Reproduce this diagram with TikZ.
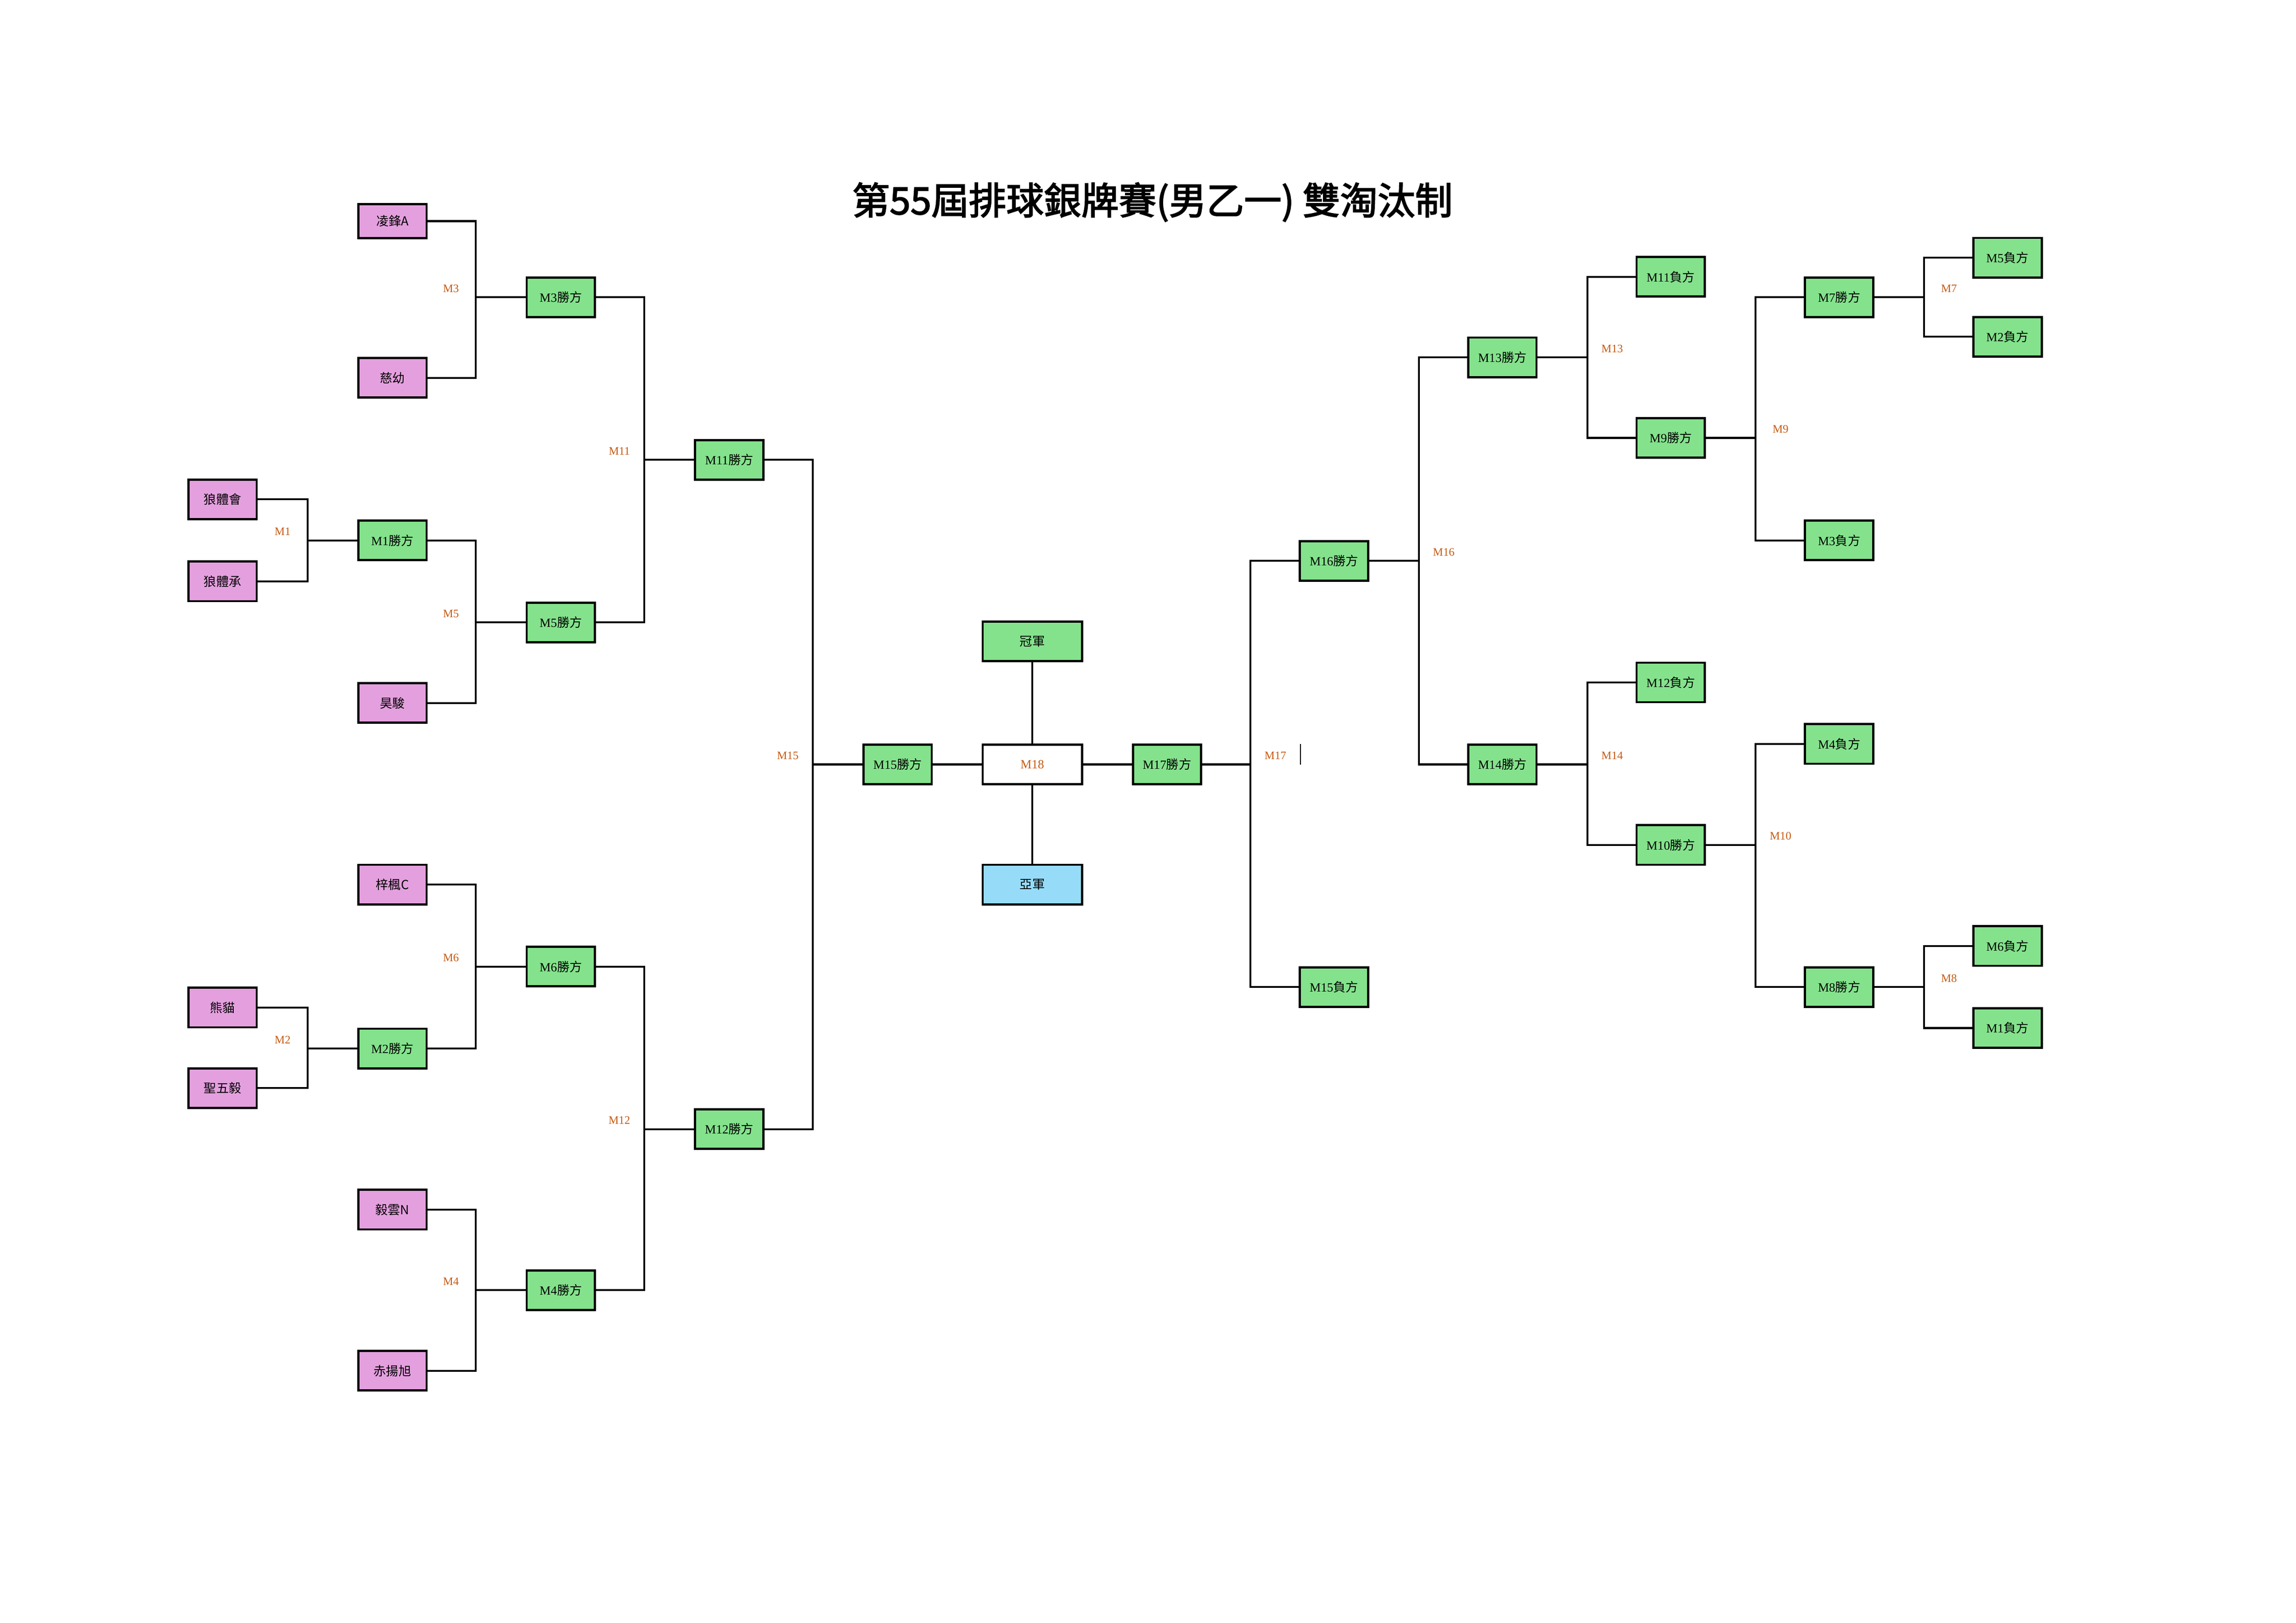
\documentclass[tikz,border=0pt]{standalone}
\usepackage{fontspec}
\setmainfont{Liberation Serif}
\newfontfamily\cjk{Noto Sans CJK TC}
\newfontfamily\cjkhead[FakeBold=2.5]{Noto Sans CJK TC}
\usetikzlibrary{calc}
\definecolor{teampink}{HTML}{E4A0DE}
\definecolor{wingreen}{HTML}{84E28C}
\definecolor{silverblue}{HTML}{96DCF8}
\definecolor{matchorange}{HTML}{C55A11}
\newcommand\winner[1]{M#1{\cjk 勝方}}
\newcommand\loser[1]{M#1{\cjk 負方}}
\tikzset{
  box/.style={draw,line width=0.8pt,minimum width=0.883cm,minimum height=0.512cm,inner sep=0pt,font=\fontsize{4.6}{5}\selectfont},
  team/.style={box,fill=teampink,font=\cjk\fontsize{4.6}{5}\selectfont},
  adv/.style={box,fill=wingreen},
  centrebox/.style={box,minimum width=1.283cm},
  mlabel/.style={text=matchorange,inner sep=0pt,font=\fontsize{4.2}{5}\selectfont},
  link/.style={line width=0.7pt}
}
\begin{document}
\begin{tikzpicture}[x=0.01894cm,y=-0.01894cm]
  \useasboundingbox (0,0) rectangle (1568,1108);
  \node[font=\cjkhead\fontsize{13.8}{16}\selectfont] (title) at (787,138) {第55屆排球銀牌賽(男乙一) 雙淘汰制};
  % teams
  \node[team,minimum height=0.442cm] (tLF) at (268,151) {凌鋒A};
  \node[team] (tCY) at (268,258) {慈幼};
  \node[team] (tLH) at (152,341) {狼體會};
  \node[team] (tLC) at (152,397) {狼體承};
  \node[team] (tHJ) at (268,480) {昊駿};
  \node[team] (tZF) at (268,604) {梓楓C};
  \node[team] (tXM) at (152,688) {熊貓};
  \node[team] (tSW) at (152,743) {聖五毅};
  \node[team] (tYY) at (268,826) {毅雲N};
  \node[team] (tCH) at (268,936) {赤揚旭};
  % winners and losers
  \foreach \n/\x/\y in {1/268/369,2/268/716,3/383/203,4/383/881,5/383/425,6/383/660,
    7/1256/203,8/1256/674,9/1141/299,10/1141/577,11/498/314,12/498/771,
    13/1026/244,14/1026/522,15/613/522,16/911/383,17/797/522}
    \node[adv] (w\n) at (\x,\y) {\winner{\n}};
  \foreach \n/\x/\y in {1/1371/702,2/1371/230,3/1256/369,4/1256/508,5/1371/176,
    6/1371/646,11/1141/189,12/1141/466,15/911/674}
    \node[adv] (d\n) at (\x,\y) {\loser{\n}};
  % final
  \node[centrebox] (f18) at (705,522) {\textcolor{matchorange}{M18}};
  \node[centrebox,fill=wingreen] (champ) at (705,438) {\cjk 冠軍};
  \node[centrebox,fill=silverblue] (runner) at (705,604) {\cjk 亞軍};
  \draw[link] (w15.east) -- (f18.west);
  \draw[link] (f18.east) -- (w17.west);
  \draw[link] (champ.south) -- (f18.north);
  \draw[link] (f18.south) -- (runner.north);
  % joins
  \foreach \m/\x/\y in {1/210/369,2/210/716,3/325/203,4/325/881,5/325/425,6/325/660,
    11/440/314,12/440/771,15/555/522,7/1314/203,8/1314/674,9/1199/299,10/1199/577,
    13/1084/244,14/1084/522,16/969/383,17/854/522}
    \coordinate (j\m) at (\x,\y);
  \foreach \m/\a/\b/\w in {1/tLH/tLC/w1,2/tXM/tSW/w2,3/tLF/tCY/w3,4/tYY/tCH/w4,
    5/w1/tHJ/w5,6/tZF/w2/w6,11/w3/w5/w11,12/w6/w4/w12,15/w11/w12/w15}
  {
    \draw[link] (\a.east) -| (j\m) |- (\b.east);
    \draw[link] (j\m) -- (\w.west);
    \node[mlabel] (m\m) at ($(j\m)+(-17,-6)$) {M\m};
  }
  \foreach \m/\a/\b/\w in {7/d5/d2/w7,8/d6/d1/w8,9/w7/d3/w9,10/d4/w8/w10,
    13/d11/w9/w13,14/d12/w10/w14,16/w13/w14/w16,17/w16/d15/w17}
  {
    \draw[link] (\a.west) -| (j\m) |- (\b.west);
    \draw[link] (j\m) -- (\w.east);
    \node[mlabel] (m\m) at ($(j\m)+(17,-6)$) {M\m};
  }
  \draw[line width=0.3pt] (888,508) -- (888,522);
\end{tikzpicture}
\end{document}
